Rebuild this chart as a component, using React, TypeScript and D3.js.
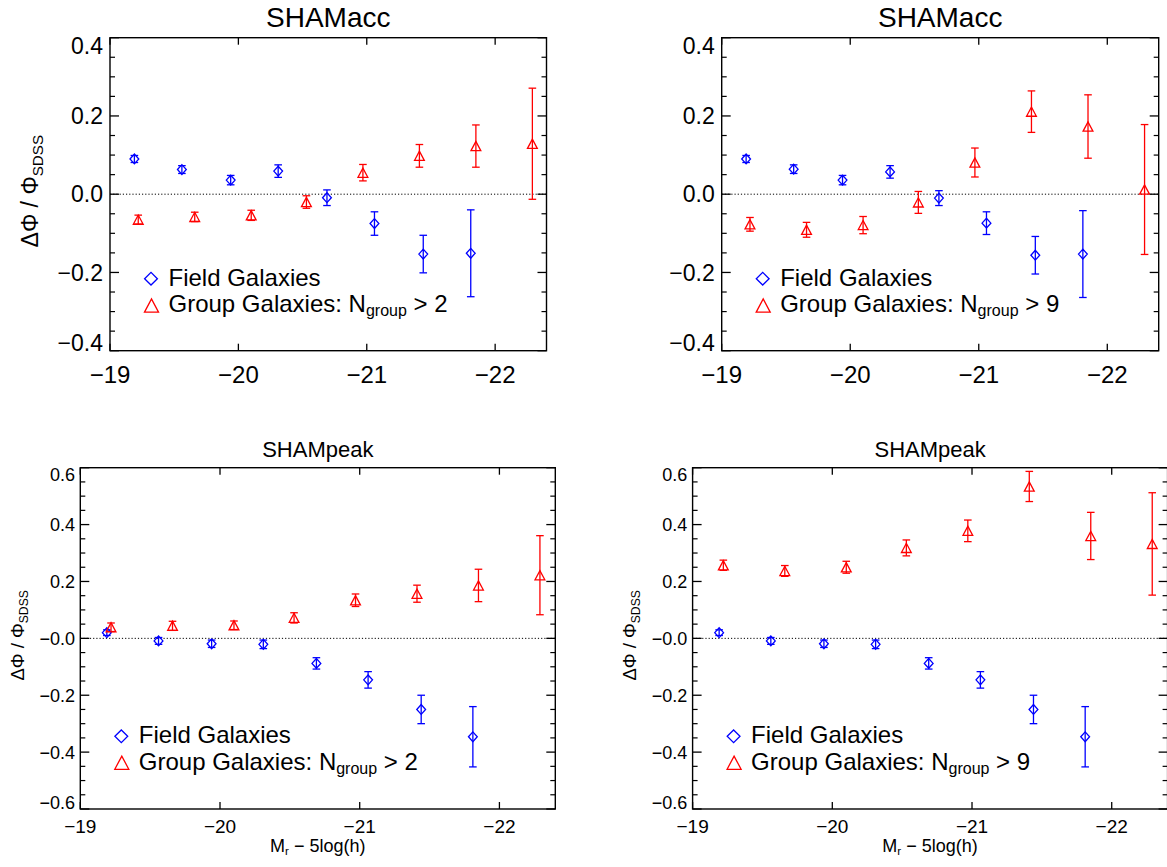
import React from "react";
import * as d3 from "d3";

// ---------- data ----------
const xTickValues = [-19, -20, -21, -22];
const xTickLabels = ["\u221219", "\u221220", "\u221221", "\u221222"];

const yTicksAcc = [-0.4, -0.2, 0.0, 0.2, 0.4];
const yTickLabelsAcc = ["\u22120.4", "\u22120.2", "0.0", "0.2", "0.4"];
const yTicksPeak = [-0.6, -0.4, -0.2, 0.0, 0.2, 0.4, 0.6];
const yTickLabelsPeak = ["\u22120.6", "\u22120.4", "\u22120.2", "\u22120.0", "0.2", "0.4", "0.6"];

const fieldMag = [-19.19, -19.56, -19.94, -20.31, -20.69, -21.06, -21.44, -21.81];
const groupMag = [-19.22, -19.66, -20.10, -20.53, -20.97, -21.41, -21.85, -22.29];

// SHAMacc, N_group > 2
const accFieldA = [0.090, 0.063, 0.036, 0.059, -0.009, -0.075, -0.153, -0.151];
const accFieldAErr = [0.009, 0.010, 0.012, 0.016, 0.020, 0.030, 0.048, 0.111];
const accGroup2 = [-0.065, -0.058, -0.054, -0.020, 0.055, 0.098, 0.123, 0.129];
const accGroup2Err = [0.0115, 0.012, 0.013, 0.016, 0.021, 0.029, 0.054, 0.142];

// SHAMacc, N_group > 9
const accFieldB = [0.090, 0.064, 0.036, 0.057, -0.010, -0.074, -0.156, -0.153];
const accFieldBErr = [0.009, 0.011, 0.012, 0.016, 0.019, 0.029, 0.048, 0.111];
const accGroup9 = [-0.077, -0.091, -0.079, -0.021, 0.081, 0.211, 0.173, 0.012];
const accGroup9Err = [0.0175, 0.019, 0.022, 0.028, 0.037, 0.053, 0.081, 0.166];

// SHAMpeak
const peakField = [0.020, -0.009, -0.019, -0.021, -0.088, -0.146, -0.250, -0.346];
const peakFieldErr = [0.010, 0.012, 0.013, 0.015, 0.020, 0.029, 0.050, 0.106];
const peakGroup2 = [0.039, 0.044, 0.046, 0.072, 0.134, 0.157, 0.186, 0.222];
const peakGroup2Err = [0.015, 0.016, 0.015, 0.018, 0.022, 0.030, 0.057, 0.139];
const peakGroup9 = [0.257, 0.237, 0.250, 0.318, 0.378, 0.534, 0.360, 0.332];
const peakGroup9Err = [0.018, 0.019, 0.021, 0.028, 0.038, 0.053, 0.083, 0.180];

const FONT = "'Liberation Sans', Arial, Helvetica, sans-serif";
const BLUE = "#0000ff";
const RED = "#ff0000";

type PanelProps = {
  left: number; right: number; top: number; bottom: number;
  yMax: number; yTicks: number[]; yTickLabels: string[];
  title: string; titleSize: number; titleY: number;
  yLabelSize: number; yLabelGap: number;
  xLabelSize: number; xLabelY: number;
  field: number[]; fieldErr: number[]; group: number[]; groupErr: number[];
  nGroup: string;
  legendY1: number; legendY2: number;
  yTitle: null | { x: number; size: number };
  xTitle: null | { y: number; size: number };
};

function diamondPath(x: number, y: number, hw: number, hh: number) {
  return `M${x - hw},${y} L${x},${y - hh} L${x + hw},${y} L${x},${y + hh} Z`;
}
function trianglePath(x: number, y: number, hw: number, hh: number) {
  return `M${x - hw},${y + hh} L${x},${y - hh} L${x + hw},${y + hh} Z`;
}

function Panel(p: PanelProps) {
  const x = d3.scaleLinear().domain([-19, -22.4]).range([p.left, p.right]);
  const y = d3.scaleLinear().domain([-p.yMax, p.yMax]).range([p.bottom, p.top]);
  const minor: number[] = [];
  const n = Math.round((2 * p.yMax) / 0.05);
  for (let i = 0; i <= n; i++) {
    const v = -p.yMax + i * 0.05;
    if (Math.abs(Math.round(v / 0.2) * 0.2 - v) > 1e-6) minor.push(v);
  }
  const cx = (p.left + p.right) / 2;
  const capW = 3.8;
  const labH = p.yLabelSize * 0.72;

  const errBars = (mags: number[], vals: number[], errs: number[], color: string) =>
    mags.map((m, i) => {
      const xx = x(m);
      const y1 = y(vals[i] + errs[i]);
      const y2 = y(vals[i] - errs[i]);
      return (
        <g key={i} stroke={color} strokeWidth={1.3} fill="none">
          <line x1={xx} x2={xx} y1={y1} y2={y2} />
          <line x1={xx - capW} x2={xx + capW} y1={y1} y2={y1} />
          <line x1={xx - capW} x2={xx + capW} y1={y2} y2={y2} />
        </g>
      );
    });

  return (
    <g fontFamily={FONT}>
      <text x={cx} y={p.titleY} fontSize={p.titleSize} textAnchor="middle" fill="#000">{p.title}</text>
      {/* zero line */}
      <line x1={p.left} x2={p.right} y1={y(0)} y2={y(0)} stroke="#000" strokeWidth={1} strokeDasharray="1.2 2" />
      {/* error bars and markers */}
      {errBars(fieldMag, p.field, p.fieldErr, BLUE)}
      {errBars(groupMag, p.group, p.groupErr, RED)}
      {fieldMag.map((m, i) => (
        <path key={"d" + i} d={diamondPath(x(m), y(p.field[i]), 4.4, 4.9)} fill="none" stroke={BLUE} strokeWidth={1.3} />
      ))}
      {groupMag.map((m, i) => (
        <path key={"t" + i} d={trianglePath(x(m), y(p.group[i]), 4.9, 4.6)} fill="none" stroke={RED} strokeWidth={1.3} />
      ))}
      {/* axes box */}
      <rect x={p.left} y={p.top} width={p.right - p.left} height={p.bottom - p.top} fill="none" stroke="#000" strokeWidth={1.4} />
      {/* y ticks */}
      {p.yTicks.map((v, i) => (
        <g key={"yt" + i} stroke="#000" strokeWidth={1.3}>
          <line x1={p.left} x2={p.left + 9} y1={y(v)} y2={y(v)} />
          <line x1={p.right} x2={p.right - 9} y1={y(v)} y2={y(v)} />
        </g>
      ))}
      {minor.map((v, i) => (
        <g key={"ym" + i} stroke="#000" strokeWidth={1.2}>
          <line x1={p.left} x2={p.left + 5} y1={y(v)} y2={y(v)} />
          <line x1={p.right} x2={p.right - 5} y1={y(v)} y2={y(v)} />
        </g>
      ))}
      {/* x ticks */}
      {xTickValues.map((v, i) => (
        <g key={"xt" + i} stroke="#000" strokeWidth={1.3}>
          <line x1={x(v)} x2={x(v)} y1={p.bottom} y2={p.bottom - 7} />
          <line x1={x(v)} x2={x(v)} y1={p.top} y2={p.top + 7} />
        </g>
      ))}
      {/* y tick labels */}
      {p.yTicks.map((v, i) => {
        const ty = Math.min(Math.max(y(v), p.top + labH / 2), p.bottom - labH / 2);
        return (
          <text key={"yl" + i} x={p.left - p.yLabelGap} y={ty + labH / 2} fontSize={p.yLabelSize} textAnchor="end" fill="#000">
            {p.yTickLabels[i]}
          </text>
        );
      })}
      {/* x tick labels */}
      {xTickValues.map((v, i) => (
        <text key={"xl" + i} x={x(v)} y={p.xLabelY} fontSize={p.xLabelSize} textAnchor="middle" fill="#000">
          {xTickLabels[i]}
        </text>
      ))}
      {/* legend */}
      <path d={diamondPath(p.left + 41, p.legendY1 - 7, 6.4, 6.3)} fill="none" stroke={BLUE} strokeWidth={1.3} />
      <text x={p.left + 58.5} y={p.legendY1} fontSize={24} fill="#000">Field Galaxies</text>
      <path d={trianglePath(p.left + 41.5, p.legendY2 - 6.8, 7, 6.6)} fill="none" stroke={RED} strokeWidth={1.3} />
      <text x={p.left + 58.5} y={p.legendY2} fontSize={24} fill="#000" style={{ whiteSpace: "pre" }}>
        <tspan>Group Galaxies: N</tspan>
        <tspan fontSize={16} dy={4}>group</tspan>
        <tspan dy={-4}>{" > " + p.nGroup}</tspan>
      </text>
      {p.yTitle && (
        <text
          transform={`translate(${p.yTitle.x},${(p.top + p.bottom) / 2 - 3}) rotate(-90)`}
          fontSize={p.yTitle.size}
          textAnchor="middle"
          fill="#000"
          style={{ whiteSpace: "pre" }}
        >
          <tspan>{"\u0394\u03A6 / \u03A6"}</tspan>
          <tspan fontSize={p.yTitle.size * 0.66} dy={p.yTitle.size * 0.22}>SDSS</tspan>
        </text>
      )}
      {p.xTitle && (
        <text x={cx} y={p.xTitle.y} fontSize={p.xTitle.size} textAnchor="middle" fill="#000" style={{ whiteSpace: "pre" }}>
          <tspan>M</tspan>
          <tspan fontSize={p.xTitle.size * 0.65} dy={3}>r</tspan>
          <tspan dy={-3}>{" \u2212 5log(h)"}</tspan>
        </text>
      )}
    </g>
  );
}

export default function App() {
  return (
    <svg width={1167} height={867} style={{ position: "absolute", left: 0, top: 0, background: "#fff" }}>
      <rect x={0} y={0} width={1167} height={867} fill="#fff" />
      <Panel
        left={110} right={546.5} top={37.7} bottom={350.7}
        yMax={0.4} yTicks={yTicksAcc} yTickLabels={yTickLabelsAcc}
        title="SHAMacc" titleSize={28} titleY={26.5}
        yLabelSize={23} yLabelGap={7} xLabelSize={24} xLabelY={383}
        field={accFieldA} fieldErr={accFieldAErr} group={accGroup2} groupErr={accGroup2Err}
        nGroup="2" legendY1={285.7} legendY2={312.3}
        yTitle={{ x: 37.5, size: 23 }} xTitle={null}
      />
      <Panel
        left={721.7} right={1158.7} top={37.7} bottom={350.7}
        yMax={0.4} yTicks={yTicksAcc} yTickLabels={yTickLabelsAcc}
        title="SHAMacc" titleSize={28} titleY={26.5}
        yLabelSize={23} yLabelGap={7} xLabelSize={24} xLabelY={383}
        field={accFieldB} fieldErr={accFieldBErr} group={accGroup9} groupErr={accGroup9Err}
        nGroup="9" legendY1={285.7} legendY2={312.3}
        yTitle={null} xTitle={null}
      />
      <Panel
        left={80.3} right={555.3} top={467.7} bottom={809}
        yMax={0.6} yTicks={yTicksPeak} yTickLabels={yTickLabelsPeak}
        title="SHAMpeak" titleSize={22} titleY={456.5}
        yLabelSize={18} yLabelGap={5.2} xLabelSize={19} xLabelY={833}
        field={peakField} fieldErr={peakFieldErr} group={peakGroup2} groupErr={peakGroup2Err}
        nGroup="2" legendY1={743.3} legendY2={769.5}
        yTitle={{ x: 24, size: 18.5 }} xTitle={{ y: 852, size: 18 }}
      />
      <Panel
        left={692.6} right={1167.6} top={467.7} bottom={809}
        yMax={0.6} yTicks={yTicksPeak} yTickLabels={yTickLabelsPeak}
        title="SHAMpeak" titleSize={22} titleY={456.5}
        yLabelSize={18} yLabelGap={5.2} xLabelSize={19} xLabelY={833}
        field={peakField} fieldErr={peakFieldErr} group={peakGroup9} groupErr={peakGroup9Err}
        nGroup="9" legendY1={743.3} legendY2={769.5}
        yTitle={{ x: 636, size: 18.5 }} xTitle={{ y: 852, size: 18 }}
      />
    </svg>
  );
}
